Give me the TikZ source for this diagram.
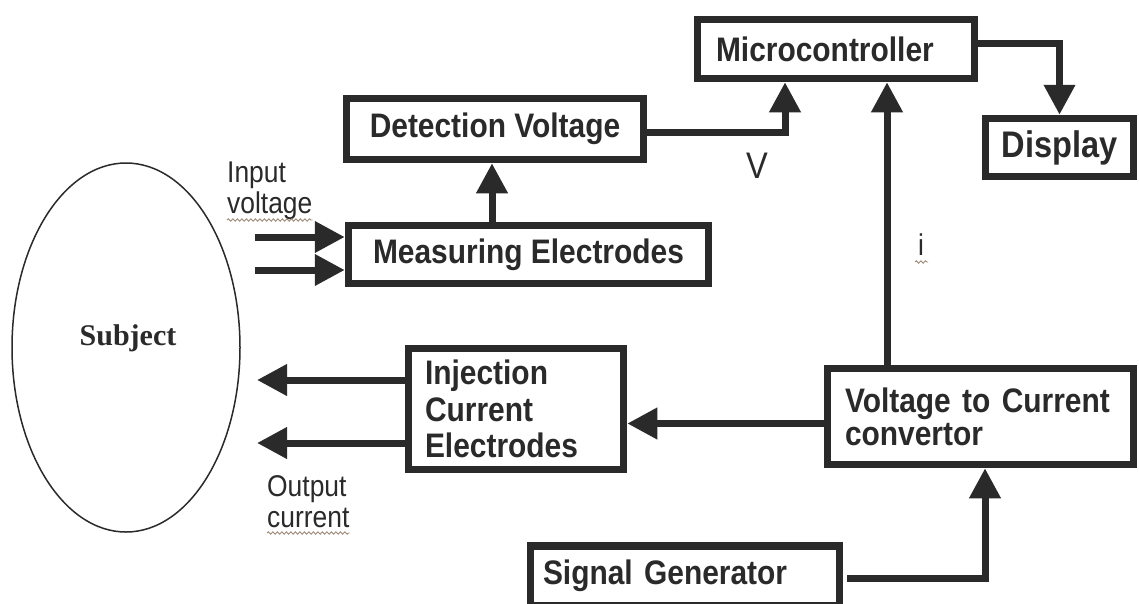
\documentclass[tikz,border=0pt]{standalone}
\usepackage{fontspec}
\setmainfont{Liberation Sans}
\newfontfamily\cond[FakeStretch=0.88]{Liberation Sans}
\newfontfamily\serifb{Liberation Serif}
\usetikzlibrary{arrows.meta,shapes.geometric,decorations.pathmorphing}
\definecolor{ink}{HTML}{2A2A2A}
\definecolor{wavy}{HTML}{9C8A78}
\tikzset{
  blk/.style={draw=ink, line width=7.5pt, rectangle, inner sep=0pt, text=ink,
    font=\cond\bfseries\fontsize{34}{33}\selectfont},
  arr/.style={draw=ink, line width=7pt, -{Triangle[length=30pt,width=30pt]}},
  lbl/.style={font=\cond\fontsize{30}{31}\selectfont, text=ink, inner sep=0pt},
  squig/.style={draw=wavy, line width=0.9pt, decorate,
    decoration={snake, amplitude=1.2pt, segment length=4.5pt}},
}
\begin{document}
\begin{tikzpicture}[x=1pt,y=-1pt]
\useasboundingbox[fill=white] (0,0) rectangle (1139,603);

% blocks
\node[blk, minimum width=277, minimum height=59, text width=240, align=left] (micro) at (836,49) {Microcontroller};
\node[blk, minimum width=148, minimum height=58, font=\cond\bfseries\fontsize{37}{36}\selectfont] (display) at (1059.5,147.5) {Display};
\node[blk, minimum width=297, minimum height=61] (detect) at (495,129) {Detection Voltage};
\node[blk, minimum width=360, minimum height=58] (measure) at (528.5,254.5) {Measuring Electrodes};
\node[blk, minimum width=215, minimum height=121, text width=182, align=left,
      font=\cond\bfseries\fontsize{34}{36.5}\selectfont] (inject) at (516,409) {Injection\\Current\\Electrodes};
\node[blk, minimum width=306, minimum height=96, text width=271, align=left] (v2c) at (980.5,416.5) {Voltage to Current\\convertor};
\node[blk, minimum width=309, minimum height=60, text width=284, align=left] (siggen) at (685,576) {Signal Generator};

% subject
\node[draw=ink, ellipse, line width=1.5pt, minimum width=228, minimum height=369, inner sep=0pt] (subject) at (126,347.5) {};
\node[text=ink, inner sep=0pt, font=\serifb\bfseries\fontsize{30}{30}\selectfont] (subjtxt) at (128,338) {Subject};

% free ends
\coordinate (sA) at (255,237);
\coordinate (sB) at (255,270);
\coordinate (tA) at (257,380);
\coordinate (tB) at (257,443);

% connectors
\draw[arr] ([xshift=-36.5pt]measure.north) -- ([xshift=-36.5pt]measure.north |- detect.south);
\draw[arr] ([yshift=-3pt]detect.east) -| ([xshift=-51pt]micro.south);
\draw[arr] ([yshift=6pt]micro.east) -| (display.north);
\draw[arr] ([xshift=-93.5pt]v2c.north) -- ([xshift=-93.5pt]v2c.north |- micro.south);
\draw[arr] ([yshift=-7pt]v2c.west) -- ([yshift=-7pt]v2c.west -| inject.east);
\draw[arr] ([xshift=4pt,yshift=-2pt]siggen.east) -| ([xshift=4.5pt]v2c.south);
\draw[arr] (inject.west |- tA) -- (tA);
\draw[arr] (inject.west |- tB) -- (tB);
\draw[arr] (sA) -- (sA -| measure.west);
\draw[arr] (sB) -- (sB -| measure.west);

% labels
\node[lbl, anchor=base west] (in1) at (227,182) {Input};
\node[lbl, anchor=base west] (in2) at (227,213) {voltage};
\node[lbl, anchor=base west] (out1) at (267,496) {Output};
\node[lbl, anchor=base west] (out2) at (267,527) {current};
\node[lbl, anchor=base, font=\cond\fontsize{37}{36}\selectfont] (vlbl) at (757,178) {V};
\node[lbl, anchor=base] (ilbl) at (921,255) {i};

% spell-check underlines
\draw[squig] (in2.south west |- 0,220) -- (in2.south east |- 0,220);
\draw[squig] (out2.south west |- 0,533) -- (out2.south east |- 0,533);
\draw[squig] (915,262) -- (928,262);
\end{tikzpicture}
\end{document}
